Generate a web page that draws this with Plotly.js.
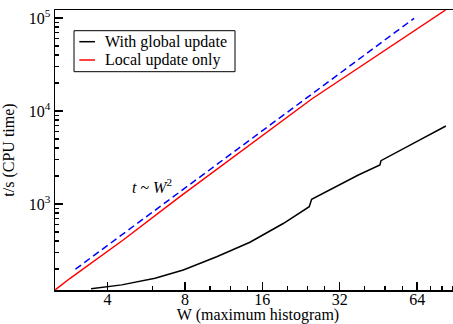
<!DOCTYPE html>
<html><head><meta charset="utf-8">
<script src="https://cdn.plot.ly/plotly-3.0.1.min.js"></script>
<style>html,body{margin:0;padding:0;overflow:hidden;background:#fff}#chart{width:461px;height:324px}</style>
</head><body><div id="chart"></div>
<script>
// Data
const globalW = [3.45, 4.54, 6.12, 7.88, 10.63, 14.32, 19.29, 24.35, 24.88, 37.2, 37.8, 45.87, 46.3, 63.7, 82.8];
const globalT = [123, 135, 159, 195, 271, 388, 617, 935, 1123, 1966, 2051, 2627, 2921, 4677, 6897];
const localW = [2.5, 2.86, 4.6, 7.65, 24.9, 45.9, 82.6];
const localT = [119, 159, 410, 1198, 13460, 41700, 121900];
const guideW = [3, 62.3];
const guideT = [199, 99300];
const seriesNames = ['With global update', 'Local update only'];
const xTickVals = [4, 8, 16, 32, 64];
const xTickText = ['4', '8', '16', '32', '64'];
const xMinorVals = [6, 10, 12, 14, 20, 24, 28, 40, 48, 56, 72, 80, 88];
const yTickVals = [1000, 10000, 100000];
const yTickText = ['10<sup>3</sup>', '10<sup>4</sup>', '10<sup>5</sup>'];
const yMinorVals = [200, 300, 400, 500, 600, 700, 800, 900,
  2000, 3000, 4000, 5000, 6000, 7000, 8000, 9000,
  20000, 30000, 40000, 50000, 60000, 70000, 80000, 90000];

const FONT = 'Liberation Serif';
const FS = 16;
const L = 55, R = 461, T = 10, B = 290;
const px = x => (x - L) / (R - L);
const py = y => (B - y) / (B - T);

const traces = [
  {x: globalW, y: globalT, name: seriesNames[0], mode: 'lines', line: {color: '#000000', width: 1.5}, showlegend: false},
  {x: localW, y: localT, name: seriesNames[1], mode: 'lines', line: {color: '#ff0000', width: 1.5}, showlegend: false},
  {x: guideW, y: guideT, name: 't ~ W^2', mode: 'lines', line: {color: '#0000ff', width: 1.5, dash: '7px,4px'}, showlegend: false}
];

const axisCommon = {
  type: 'log', showgrid: false, zeroline: false, showline: true, linecolor: '#000', linewidth: 1.5,
  mirror: true, ticks: 'inside', ticklen: 8, tickwidth: 1.3, tickcolor: '#000',
  tickfont: {family: FONT, size: FS, color: '#000'}, tickmode: 'array', automargin: false
};

const layout = {
  width: 461, height: 324,
  margin: {l: L, r: 0, t: T, b: 324 - B},
  paper_bgcolor: '#fff', plot_bgcolor: '#fff',
  font: {family: FONT, size: FS, color: '#000'},
  xaxis: Object.assign({}, axisCommon, {
    range: [Math.log10(2.498), Math.log10(94.8)],
    tickvals: xTickVals, ticktext: xTickText,
    ticklabelstandoff: -6,
    minor: {tickmode: 'array', tickvals: xMinorVals, ticks: 'inside', ticklen: 4, tickwidth: 1.3, tickcolor: '#000'},
    title: {text: 'W (maximum histogram)', font: {family: FONT, size: FS, color: '#000'}}
  }),
  yaxis: Object.assign({}, axisCommon, {
    range: [2.0753, 5.086],
    tickvals: yTickVals, ticktext: yTickText,
    minor: {tickmode: 'array', tickvals: yMinorVals, ticks: 'inside', ticklen: 4, tickwidth: 1.3, tickcolor: '#000'},
    title: {text: 't/s (CPU time)', font: {family: FONT, size: FS, color: '#000'}}
  }),
  shapes: [
    {type: 'rect', xref: 'paper', yref: 'paper', x0: px(74), x1: px(235), y0: py(71.7), y1: py(30.7),
     line: {color: '#000', width: 1}, fillcolor: '#fff', layer: 'above'},
    {type: 'line', xref: 'paper', yref: 'paper', x0: px(79.3), x1: px(95), y0: py(41.7), y1: py(41.7),
     line: {color: '#000', width: 1.5}, layer: 'above'},
    {type: 'line', xref: 'paper', yref: 'paper', x0: px(79.3), x1: px(95), y0: py(60), y1: py(60),
     line: {color: '#ff0000', width: 1.5}, layer: 'above'}
  ],
  annotations: [
    {xref: 'paper', yref: 'paper', x: px(103), y: py(41.7), xanchor: 'left', yanchor: 'middle', showarrow: false,
     text: seriesNames[0], font: {family: FONT, size: FS, color: '#000'}},
    {xref: 'paper', yref: 'paper', x: px(103), y: py(60), xanchor: 'left', yanchor: 'middle', showarrow: false,
     text: seriesNames[1], font: {family: FONT, size: FS, color: '#000'}},
    {xref: 'paper', yref: 'paper', x: px(152), y: py(186), xanchor: 'center', yanchor: 'middle', showarrow: false,
     text: '<i>t</i> ~ <i>W</i><sup>2</sup>', font: {family: FONT, size: FS, color: '#000'}}
  ]
};

Plotly.newPlot('chart', traces, layout, {displayModeBar: false, staticPlot: true});
</script>
</body></html>
